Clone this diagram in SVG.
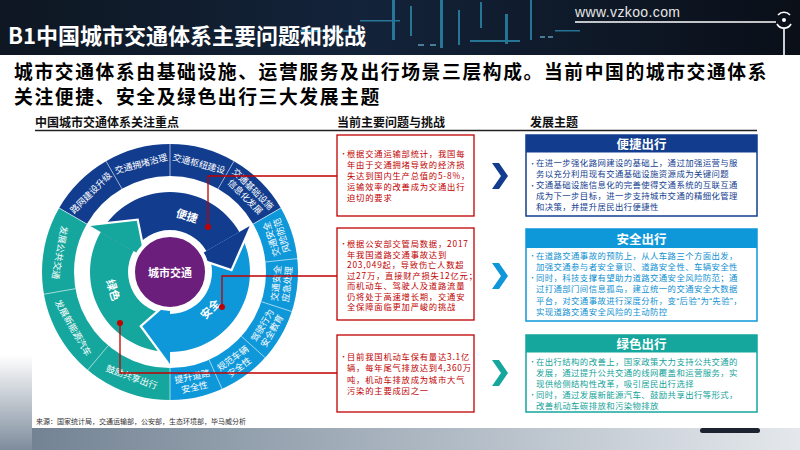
<svg xmlns="http://www.w3.org/2000/svg" width="800" height="450" viewBox="0 0 800 450">
<defs>
<linearGradient id="hdr" x1="0" y1="0" x2="1" y2="0">
<stop offset="0" stop-color="#0e1722"/>
<stop offset="0.45" stop-color="#13233a"/>
<stop offset="0.7" stop-color="#0f1a2a"/>
<stop offset="1" stop-color="#0a0f18"/>
</linearGradient>
<linearGradient id="bot" x1="0" y1="0" x2="1" y2="0">
<stop offset="0" stop-color="#6f7f90"/>
<stop offset="0.5" stop-color="#a9b4bf"/>
<stop offset="1" stop-color="#e4e8ec"/>
</linearGradient>
<linearGradient id="lft" x1="0" y1="0" x2="0" y2="1">
<stop offset="0" stop-color="#ffffff"/>
<stop offset="1" stop-color="#7d8c9c"/>
</linearGradient>
</defs>
<style>
text{font-family:"Noto Sans CJK SC","Noto Sans",sans-serif}
.title{font-size:22px;font-weight:700;fill:#fff}
.sub{font-size:18.8px;letter-spacing:1.6px;font-weight:700;fill:#000}
.sec{font-size:12px;font-weight:700;fill:#111}
.seg{font-size:9px;fill:#fff;text-anchor:middle}
.arr{font-size:11px;font-weight:700;fill:#fff;text-anchor:middle}
.red{font-size:8.3px;letter-spacing:0.8px;fill:#c00000}
.bul{font-size:7px;letter-spacing:0}
.hd{font-size:12.5px;font-weight:700;fill:#fff;text-anchor:middle}
.tb{font-size:8.4px;letter-spacing:0.4px}
.q{font-family:"Liberation Sans",sans-serif}
.div{stroke:#fff;stroke-width:1;stroke-opacity:0.6}
.con{fill:none;stroke:#c00000;stroke-width:1.3}
.dot{fill:#c00000}
.rbox{fill:#fff;stroke:#c00000;stroke-width:1.3}
.navy{fill:#123d8f}
.sky{fill:#0e98da}
.teal{fill:#15a79e}
</style>

<!-- background -->
<rect x="0" y="0" width="800" height="450" fill="#fff"/>
<rect x="0" y="428" width="800" height="22" fill="url(#bot)"/>
<rect x="0" y="355" width="32" height="95" fill="url(#lft)"/>
<rect x="700" y="428" width="60" height="5" rx="2.5" fill="#1c2330"/>

<!-- header -->
<g id="header">
<rect x="0" y="0" width="800" height="55" fill="url(#hdr)"/>
<g fill="#39bde8" opacity="0.55">
<rect x="392" y="0" width="3" height="40"/>
<rect x="410" y="6" width="2" height="30"/>
<rect x="440" y="0" width="3" height="48"/>
<rect x="458" y="10" width="2" height="35"/>
<rect x="480" y="2" width="2" height="26"/>
<rect x="505" y="14" width="3" height="30"/>
<rect x="530" y="0" width="2" height="40"/>
<rect x="300" y="30" width="60" height="2"/>
<rect x="360" y="20" width="40" height="1.5"/>
<rect x="470" y="40" width="50" height="2"/>
<rect x="555" y="30" width="25" height="1.5"/>
</g>
<g fill="#7fdcff" opacity="0.5">
<rect x="418" y="44" width="6" height="2"/>
<rect x="430" y="44" width="6" height="2"/>
<rect x="540" y="36" width="5" height="2"/>
<rect x="548" y="36" width="5" height="2"/>
</g>
<text x="8" y="44" class="title">B1中国城市交通体系主要问题和挑战</text>
<text x="575" y="17" font-size="14" fill="#e6e6e6" style="font-family:'Liberation Sans',sans-serif" textLength="105">www.vzkoo.com</text>
<line x1="575" y1="22" x2="776" y2="22" stroke="#fff" stroke-width="1.3"/>
<g fill="none" stroke="#fff" stroke-width="1.6">
<path d="M 778 15 A 8 8 0 0 1 790 15"/>
<path d="M 791 24 A 8 8 0 0 1 777 24"/>
<line x1="784" y1="29" x2="784" y2="55"/>
</g>
<circle cx="784" cy="20" r="2" fill="#fff"/>
</g>

<!-- headline -->
<text x="14" y="79" class="sub">城市交通体系由基础设施、运营服务及出行场景三层构成。当前中国的城市交通体系</text>
<text x="14" y="104" class="sub">关注便捷、安全及绿色出行三大发展主题</text>

<!-- section headings -->
<text x="35" y="127" class="sec">中国城市交通体系关注重点</text>
<text x="337" y="127" class="sec">当前主要问题与挑战</text>
<text x="530" y="127" class="sec">发展主题</text>
<line x1="35" y1="130.5" x2="757" y2="130.5" stroke="#222" stroke-width="1.3"/>

<!-- outer ring -->
<g id="outer-ring">
<path class="navy" d="M 280.85 208 A 128 128 0 0 0 59.15 208 L 86.86 224 A 96 96 0 0 1 253.14 224 Z"/>
<path class="sky" d="M 280.85 208 A 128 128 0 0 1 170 400 L 170 368 A 96 96 0 0 0 253.14 224 Z"/>
<path class="teal" d="M 170 400 A 128 128 0 0 1 59.15 208 L 86.86 224 A 96 96 0 0 0 170 368 Z"/>
<line class="div" x1="122" y1="188.86" x2="106" y2="161.15"/>
<line class="div" x1="170" y1="176" x2="170" y2="144"/>
<line class="div" x1="218" y1="188.86" x2="234" y2="161.15"/>
<line class="div" x1="253.14" y1="224" x2="280.85" y2="208"/>
<line class="div" x1="265.47" y1="261.97" x2="297.3" y2="258.62"/>
<line class="div" x1="261.3" y1="301.67" x2="291.74" y2="311.55"/>
<line class="div" x1="241.34" y1="336.24" x2="265.12" y2="357.65"/>
<line class="div" x1="209.05" y1="359.7" x2="222.06" y2="388.93"/>
<line class="div" x1="170" y1="368" x2="170" y2="400"/>
<line class="div" x1="108.29" y1="345.54" x2="87.72" y2="370.05"/>
<line class="div" x1="75.46" y1="288.67" x2="43.95" y2="294.23"/>
<line class="div" x1="86.86" y1="224" x2="59.15" y2="208"/>
</g>

<g id="ring-labels">
<text class="seg" transform="translate(90.8,192.8) rotate(-45)" y="3.2">路网建设升级</text>
<text class="seg" transform="translate(141,163.8) rotate(-15)" y="3.2">交通拥堵治理</text>
<text class="seg" transform="translate(199,163.8) rotate(15)" y="3.2">交通枢纽建设</text>
<text class="seg" transform="translate(249.2,192.8) rotate(45)"><tspan x="0" y="-2">交通基础设施</tspan><tspan x="0" y="9">信息化发展</tspan></text>
<text class="seg" transform="translate(276.5,237.4) rotate(-108)"><tspan x="0" y="-2">交通安全</tspan><tspan x="0" y="9">风险防范</tspan></text>
<text class="seg" transform="translate(281.4,283.7) rotate(-84)"><tspan x="0" y="-2">交通安全</tspan><tspan x="0" y="9">应急处理</tspan></text>
<text class="seg" transform="translate(267,328) rotate(-60)"><tspan x="0" y="-2">驾驶行为</tspan><tspan x="0" y="9">安全教育</tspan></text>
<text class="seg" transform="translate(235.8,362.6) rotate(-36)"><tspan x="0" y="-2">规范车辆</tspan><tspan x="0" y="9">安全性</tspan></text>
<text class="seg" transform="translate(193.3,381.6) rotate(-12)"><tspan x="0" y="-2">提升道路</tspan><tspan x="0" y="9">安全性</tspan></text>
<text class="seg" transform="translate(131.7,377.2) rotate(20)" y="3.2">鼓励共享出行</text>
<text class="seg" transform="translate(73,328) rotate(60)" y="3.2">发展新能源汽车</text>
<text class="seg" transform="translate(59.7,252.6) rotate(100)" y="3.2">发展公共交通</text>
</g>

<!-- cycle arrows -->
<g id="arrow-bianjie">
<path class="navy" d="M 100.72 232 A 80 80 0 0 1 239.28 232 L 206.37 251 A 42 42 0 0 0 133.63 251 Z"/>
</g>
<g id="arrow-anquan">
<path class="sky" d="M 239.28 232 A 80 80 0 0 1 170 352 L 170 314 A 42 42 0 0 0 206.37 251 Z"/>
</g>
<g id="arrow-lvse">
<path class="teal" d="M 170 352 A 80 80 0 0 1 100.72 232 L 133.63 251 A 42 42 0 0 0 170 314 Z"/>
</g>
<g id="arrow-heads">
<polyline points="249.67,226 230.92,268.81 195.98,257" fill="none" stroke="#fff" stroke-width="4.5"/>
<polygon class="navy" points="249.67,226 230.92,268.81 195.98,257"/>
<polyline points="170,364 142.31,326.35 170,302" fill="none" stroke="#fff" stroke-width="4.5"/>
<polygon class="sky" points="170,364 142.31,326.35 170,302"/>
<polyline points="90.33,226 136.78,220.84 144.02,257" fill="none" stroke="#fff" stroke-width="4.5"/>
<polygon class="teal" points="90.33,226 136.78,220.84 144.02,257"/>
</g>

<g id="center">
<circle cx="170" cy="272" r="37" fill="#6b1e7c" stroke="#fff" stroke-width="4"/>
<text x="170" y="277" class="arr">城市交通</text>
</g>
<text class="arr" transform="translate(187,216) rotate(17)" y="4">便捷</text>
<text class="arr" transform="translate(210,309) rotate(-46)" y="4">安全</text>
<text class="arr" transform="translate(113,290) rotate(73)" y="4">绿色</text>

<!-- connectors -->
<g id="connectors">
<polyline class="con" points="208,227 208,176 337,176"/>
<polyline class="con" points="222,307 222,276 337,276"/>
<polyline class="con" points="120,323 120,373 337,373"/>
<circle class="dot" cx="208" cy="227" r="3"/>
<circle class="dot" cx="222" cy="307" r="3"/>
<circle class="dot" cx="120" cy="323" r="3"/>
<polygon class="navy" points="492,163 499,163 508,176 499,189 492,189 501,176"/>
<polygon class="sky" points="492,263 499,263 508,276 499,289 492,289 501,276"/>
<polygon class="teal" points="492,360 499,360 508,373 499,386 492,386 501,373"/>
</g>

<!-- problem boxes -->
<g id="problem-1">
<rect class="rbox" x="337" y="135" width="137" height="81"/>
<text x="340" y="156" class="red bul">•</text>
<text class="red"><tspan x="347" y="157">根据交通运输部统计，我国每</tspan><tspan x="347" y="168">年由于交通拥堵导致的经济损</tspan><tspan x="347" y="179">失达到国内生产总值的5-8%，</tspan><tspan x="347" y="190">运输效率的改善成为交通出行</tspan><tspan x="347" y="201">迫切的要求</tspan></text>
</g>
<g id="problem-2">
<rect class="rbox" x="337" y="228" width="137" height="92"/>
<text x="340" y="246" class="red bul">•</text>
<text class="red"><tspan x="347" y="247">根据公安部交管局数据，2017</tspan><tspan x="347" y="257.5">年我国道路交通事故达到</tspan><tspan x="347" y="268">203,049起，导致伤亡人数超</tspan><tspan x="347" y="278.5">过27万，直接财产损失12亿元；</tspan><tspan x="347" y="289">而机动车、驾驶人及道路流量</tspan><tspan x="347" y="299.5">仍将处于高速增长期，交通安</tspan><tspan x="347" y="310">全保障面临更加严峻的挑战</tspan></text>
</g>
<g id="problem-3">
<rect class="rbox" x="337" y="335" width="137" height="77"/>
<text x="340" y="358.5" class="red bul">•</text>
<text class="red"><tspan x="347" y="359.5">目前我国机动车保有量达3.1亿</tspan><tspan x="347" y="371">辆，每年尾气排放达到4,360万</tspan><tspan x="347" y="382.5">吨，机动车排放成为城市大气</tspan><tspan x="347" y="394">污染的主要成因之一</tspan></text>
</g>

<!-- theme boxes -->
<g id="theme-bianjie">
<rect x="526" y="135" width="231" height="81" fill="#fff" stroke="#123d8f" stroke-width="1.5"/>
<rect class="navy" x="526" y="135" width="231" height="17.5"/>
<text x="641.5" y="148.5" class="hd">便捷出行</text>
<g class="tb" fill="#123d8f">
<text x="529" y="165.5" class="bul">•</text>
<text x="529" y="187.5" class="bul">•</text>
<text><tspan x="536" y="166.3">在进一步强化路网建设的基础上，通过加强运营与服</tspan><tspan x="536" y="177.3">务以充分利用现有交通基础设施资源成为关键问题</tspan><tspan x="536" y="188.3">交通基础设施信息化的完善使得交通系统的互联互通</tspan><tspan x="536" y="199.3">成为下一步目标，进一步支持城市交通的精细化管理</tspan><tspan x="536" y="210.3">和决策，并提升居民出行便捷性</tspan></text>
</g>
</g>
<g id="theme-anquan">
<rect x="526" y="229" width="231" height="92" fill="#fff" stroke="#0e98da" stroke-width="1.5"/>
<rect class="sky" x="526" y="229" width="231" height="19"/>
<text x="641.5" y="243.5" class="hd">安全出行</text>
<g class="tb" fill="#0e90d2">
<text x="529" y="257.7" class="bul">•</text>
<text x="529" y="280.3" class="bul">•</text>
<text><tspan x="536" y="258.5">在道路交通事故的预防上，从人车路三个方面出发，</tspan><tspan x="536" y="269.8">加强交通参与者安全意识、道路安全性、车辆安全性</tspan><tspan x="536" y="281.1">同时，科技支撑有望助力道路交通安全风险防范；通</tspan><tspan x="536" y="292.4">过打通部门间信息孤岛，建立统一的交通安全大数据</tspan><tspan x="536" y="303.7">平台，对交通事故进行深度分析，变<tspan class="q">“</tspan>后验<tspan class="q">”</tspan>为<tspan class="q">“</tspan>先验<tspan class="q">”</tspan>，</tspan><tspan x="536" y="315">实现道路交通安全风险的主动防控</tspan></text>
</g>
</g>
<g id="theme-lvse">
<rect x="526" y="335" width="231" height="77" fill="#fff" stroke="#15a79e" stroke-width="1.5"/>
<rect class="teal" x="526" y="335" width="231" height="17.5"/>
<text x="641.5" y="348.5" class="hd">绿色出行</text>
<g class="tb" fill="#12a39a">
<text x="529" y="364.4" class="bul">•</text>
<text x="529" y="397.4" class="bul">•</text>
<text><tspan x="536" y="365.2">在出行结构的改善上，国家政策大力支持公共交通的</tspan><tspan x="536" y="376.2">发展，通过提升公共交通的线网覆盖和运营服务，实</tspan><tspan x="536" y="387.2">现供给侧结构性改革，吸引居民出行选择</tspan><tspan x="536" y="398.2">同时，通过发展新能源汽车、鼓励共享出行等形式，</tspan><tspan x="536" y="409.2">改善机动车碳排放和污染物排放</tspan></text>
</g>
</g>

<text x="36" y="424" font-size="7" fill="#333">来源：国家统计局，交通运输部，公安部，生态环境部，毕马威分析</text>
</svg>
